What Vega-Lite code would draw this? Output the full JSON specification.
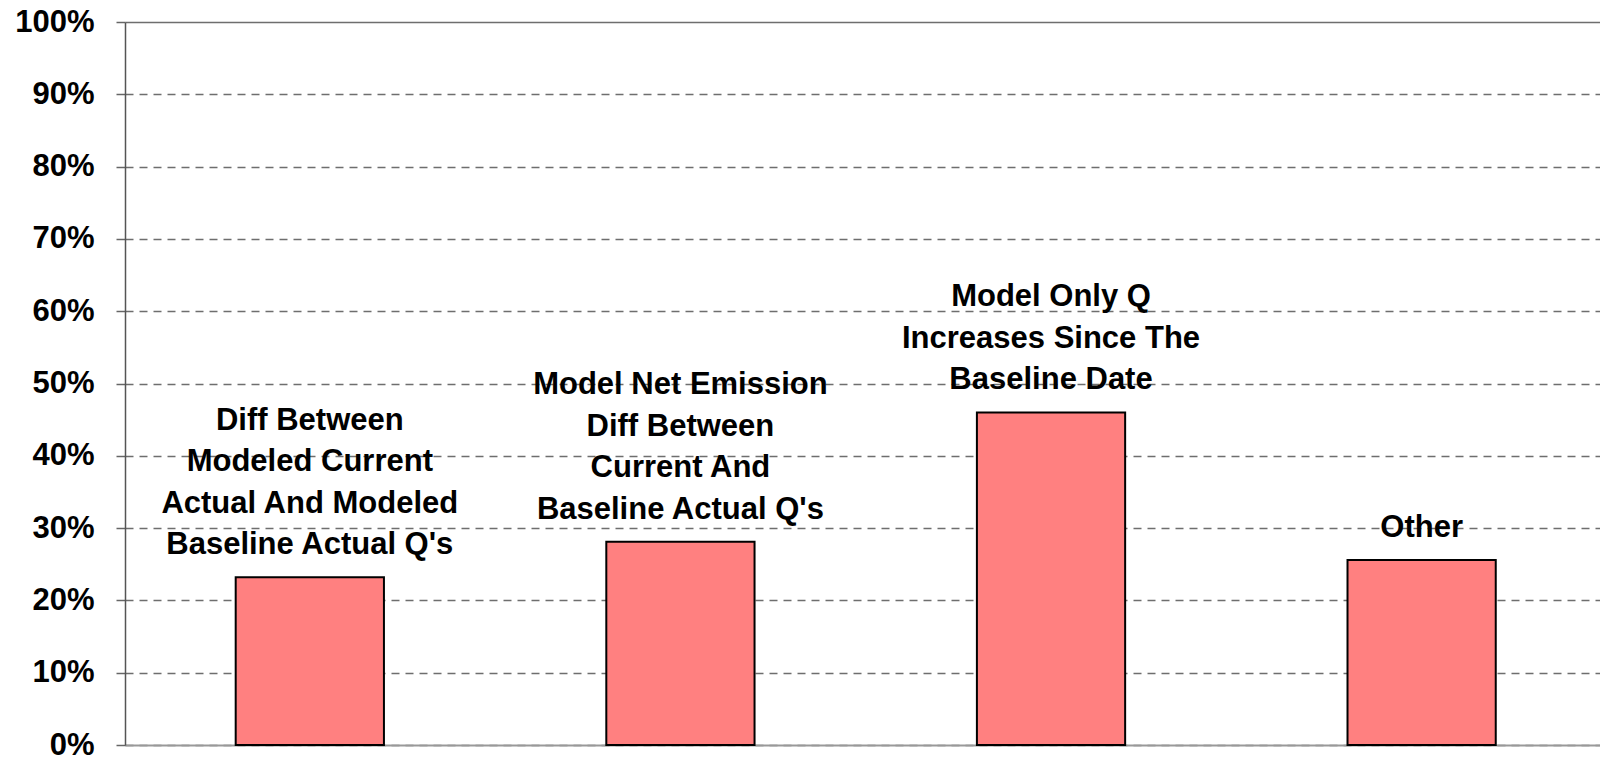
{
  "$schema": "https://vega.github.io/schema/vega-lite/v6.json",
  "width": 1475,
  "height": 723,
  "autosize": {"type": "none"},
  "padding": {"left": 125, "top": 22, "right": 0, "bottom": 17},
  "background": "white",
  "config": {"view": {"stroke": null}, "font": "Liberation Sans"},
  "data": {
    "values": [
      {"category": "A", "label": "Diff Between\nModeled Current\nActual And Modeled\nBaseline Actual Q's", "value": 0.232},
      {"category": "B", "label": "Model Net Emission\nDiff Between\nCurrent And\nBaseline Actual Q's", "value": 0.281},
      {"category": "C", "label": "Model Only Q\nIncreases Since The\nBaseline Date", "value": 0.46},
      {"category": "D", "label": "Other", "value": 0.256}
    ]
  },
  "encoding": {
    "x": {
      "field": "category",
      "type": "nominal",
      "sort": null,
      "scale": {"paddingInner": 0.6, "paddingOuter": 0.29, "align": 0.515},
      "axis": {
        "title": null,
        "labels": false,
        "ticks": false,
        "domainColor": "#999999",
        "domainWidth": 2
      }
    },
    "y": {
      "field": "value",
      "type": "quantitative",
      "scale": {"domain": [0, 1], "nice": false, "zero": true},
      "axis": {
        "title": null,
        "values": [0, 0.1, 0.2, 0.3, 0.4, 0.5, 0.6, 0.7, 0.8, 0.9, 1],
        "format": ".0%",
        "labelFont": "Liberation Sans",
        "labelFontWeight": "bold",
        "labelFontSize": 31,
        "labelColor": "#000000",
        "labelPadding": 22,
        "tickSize": 9,
        "tickColor": "#666666",
        "tickWidth": 1.5,
        "domainColor": "#555555",
        "domainWidth": 1.5,
        "grid": true,
        "gridColor": "#6e6e6e",
        "gridWidth": 1.3,
        "gridDash": {"condition": {"test": "datum.value === 1", "value": []}, "value": [8, 6]}
      }
    }
  },
  "layer": [
    {
      "mark": {"type": "bar", "color": "#FF8080", "stroke": "#000000", "strokeWidth": 2}
    },
    {
      "mark": {
        "type": "text",
        "font": "Liberation Sans",
        "fontWeight": "bold",
        "fontSize": 31,
        "color": "#000000",
        "align": "center",
        "baseline": "bottom",
        "lineBreak": "\n",
        "lineHeight": 41.5,
        "dy": {"expr": "-16 - 41.5 * (length(split(datum.label, '\\n')) - 1)"}
      },
      "encoding": {"text": {"field": "label"}}
    }
  ]
}
